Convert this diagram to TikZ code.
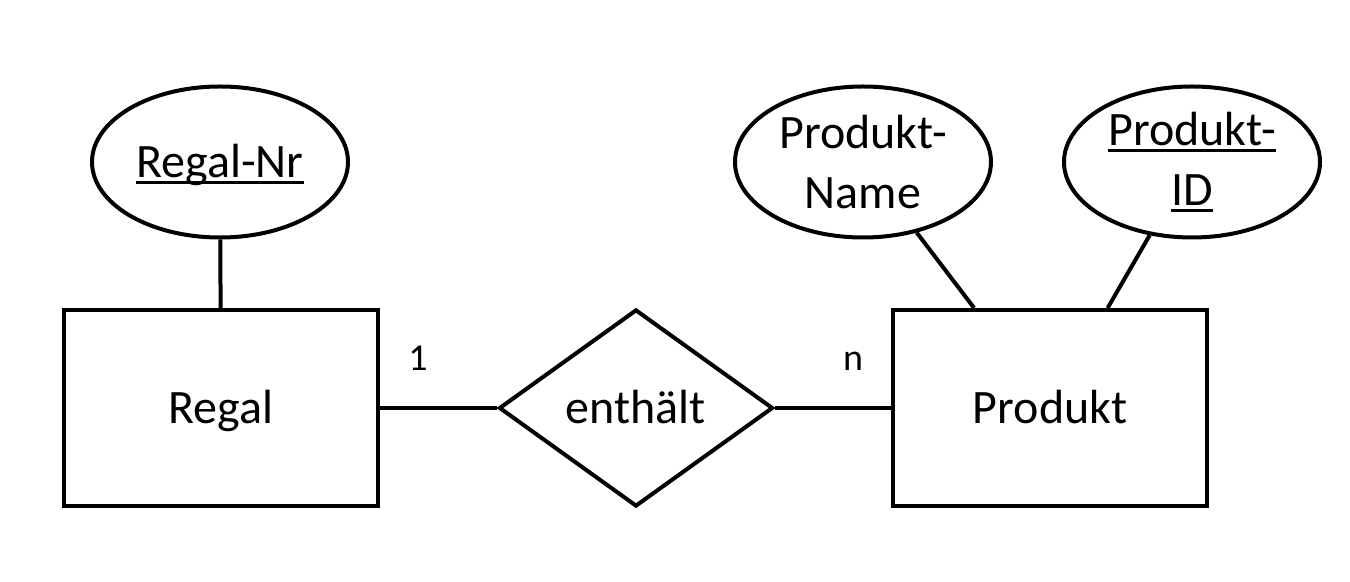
\documentclass[tikz,border=0pt]{standalone}
\usepackage{fontspec}
\setmainfont{Carlito}
\usetikzlibrary{shapes.geometric}

% underlined key attribute
\newcommand\keyattr[1]{\setbox0\hbox{#1}\rlap{\usebox0}\rule[-0.14em]{\wd0}{0.06em}}

\tikzset{
  flat/.style={text height=15.5pt, text depth=0pt},
  entity/.style={draw, rectangle, flat, inner sep=0pt, minimum width=157pt, minimum height=98pt},
  attrib/.style={draw, ellipse, inner sep=0pt, minimum width=128pt, minimum height=75.5pt, align=center},
  relship/.style={draw, diamond, flat, inner sep=0pt, minimum width=137pt, minimum height=98.5pt},
  card/.style={font=\fontsize{19}{23}\selectfont, anchor=base},
}

\begin{document}
\begin{tikzpicture}[x=0.5pt, y=-0.5pt, line width=2pt, font=\fontsize{24}{30}\selectfont]

  \newcommand\Top{162}
  \newcommand\Mid{408}

  \useasboundingbox (0,0) rectangle (1350,582);

  %% entities and relationship
  \node[entity] (regal) at (221,\Mid) {Regal};
  \node[relship] (enthaelt) at (636,\Mid) {enthält};
  \node[entity] (produkt) at (1050,\Mid) {Produkt};

  %% attributes
  \node[attrib, flat] (regalnr) at (220,\Top) {\keyattr{Regal-Nr}};
  \node[attrib] (pname) at (863,\Top) {Produkt-\\Name};
  \node[attrib] (pid) at (1192,\Top) {\keyattr{Produkt-}\\\keyattr{ID}};

  \draw (regal) -- (enthaelt);
  \draw (enthaelt) -- (produkt);
  \draw (regalnr) -- (regal);
  \draw (pname) -- (produkt);
  \draw (pid) -- (produkt);

  %% cardinalities
  \node[card] (c1) at (418,371) {1};
  \node[card] (cn) at (853,371) {n};

\end{tikzpicture}
\end{document}
